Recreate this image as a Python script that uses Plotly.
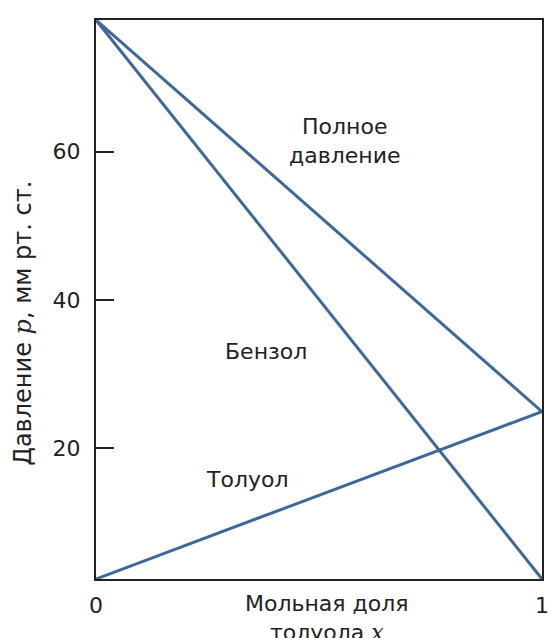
import plotly.graph_objects as go

x_frac = [0, 1]
benzene = [77.8, 2.3]
toluene = [2.3, 24.9]
total = [77.8, 24.9]
y_ticks = [20, 40, 60]
x_ticks = [0, 1]

line_color = "#3f6799"
font_fam = "DejaVu Sans, Liberation Sans, Arial, sans-serif"
fsize = 22

fig = go.Figure()
for name, ys in [("Бензол", benzene), ("Толуол", toluene), ("Полное давление", total)]:
    fig.add_trace(go.Scatter(x=x_frac, y=ys, mode="lines", name=name,
                             line=dict(color=line_color, width=3), showlegend=False))

fig.update_layout(
    width=552, height=638,
    margin=dict(l=96, r=10, t=20, b=59),
    paper_bgcolor="white", plot_bgcolor="white",
    font=dict(family=font_fam, size=fsize, color="#222"),
    xaxis=dict(range=[0, 1], tickvals=x_ticks, ticktext=["0", "1"], ticks="",
               showline=True, linecolor="#222", linewidth=2, mirror=True,
               showgrid=False, zeroline=False, ticklabelstandoff=6, automargin=False),
    yaxis=dict(range=[2.3, 77.8], tickvals=y_ticks, ticks="inside", ticklen=18,
               tickwidth=2, tickcolor="#222",
               showline=True, linecolor="#222", linewidth=2, mirror=True,
               showgrid=False, zeroline=False, ticklabelstandoff=9, automargin=False),
)

ann = [
    dict(x=0.558, y=61.5, text="Полное<br>давление", xref="x", yref="y"),
    dict(x=0.381, y=33.0, text="Бензол", xref="x", yref="y"),
    dict(x=0.339, y=15.7, text="Толуол", xref="x", yref="y"),
]
for a in ann:
    fig.add_annotation(**a, showarrow=False, font=dict(size=fsize, color="#222"))

fig.add_annotation(x=-0.164, y=0.458, xref="paper", yref="paper", textangle=-90,
                   xanchor="center", yanchor="middle",
                   text="Давление <span style=\"font-family:'DejaVu Serif'\"><i>p</i></span>, мм рт. ст.",
                   showarrow=False, font=dict(size=24, color="#222"))
# x-axis title (its second line is cut by the page edge, as in the reference)
fig.add_annotation(x=0.519, y=(579 - 618) / 559, xref="paper", yref="paper",
                   yanchor="middle", xanchor="center",
                   text="Мольная доля<br>толуола <span style=\"font-family:'DejaVu Serif'\"><i>x</i></span>",
                   showarrow=False, font=dict(size=fsize, color="#222"))

fig.write_html("out.html", config={"displayModeBar": False},
               post_script="document.body.style.margin='0';document.body.style.overflow='hidden';")
